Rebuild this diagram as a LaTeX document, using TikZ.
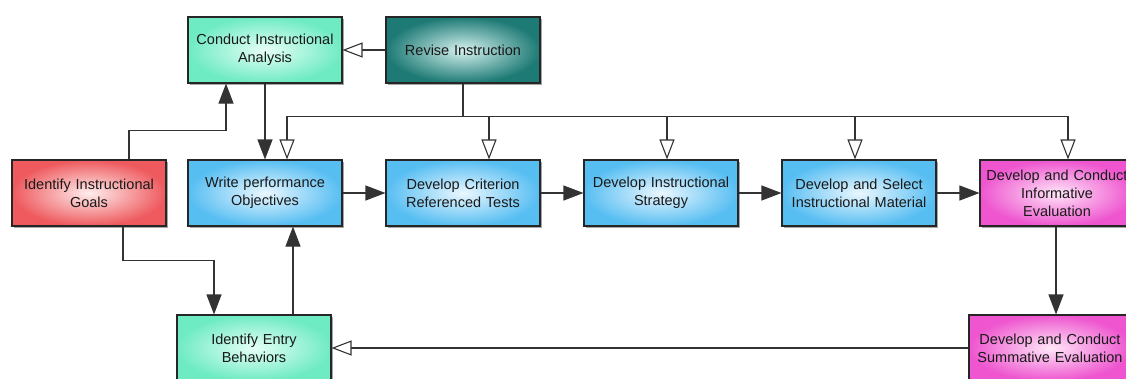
\documentclass[tikz,border=0pt]{standalone}
\usepackage{fontspec}
\setmainfont{Liberation Sans}
\usetikzlibrary{arrows.meta,shadows,calc}
\definecolor{linec}{HTML}{333333}
\definecolor{mintO}{HTML}{6FEBC3}
\definecolor{mintI}{HTML}{E6FFF7}
\definecolor{tealO}{HTML}{1E7A75}
\definecolor{tealI}{HTML}{D5F2EF}
\definecolor{redO}{HTML}{EE5A5E}
\definecolor{redI}{HTML}{FFEDED}
\definecolor{blueO}{HTML}{57BEF2}
\definecolor{blueI}{HTML}{EAF7FF}
\definecolor{pinkO}{HTML}{EE55CF}
\definecolor{pinkI}{HTML}{FFE6F8}
\tikzset{
  box/.style={draw=black!85, line width=1.1pt, minimum width=154pt, minimum height=66pt,
    inner sep=0pt, align=center, text width=150pt, text=black!90,
    font=\fontsize{14.5}{18}\selectfont, shading=radial,
    drop shadow={shadow xshift=2pt, shadow yshift=-2pt, opacity=0.35, fill=black}},
  mint/.style={box, inner color=mintI, outer color=mintO},
  teal/.style={box, inner color=tealI, outer color=tealO},
  redb/.style={box, inner color=redI, outer color=redO},
  blueb/.style={box, inner color=blueI, outer color=blueO},
  pinkb/.style={box, inner color=pinkI, outer color=pinkO},
  conn/.style={draw=linec, line width=1.1pt},
  farr/.style={conn, -{Triangle[length=20pt,width=15pt]}},
  oarr/.style={conn, -{Triangle[open,length=20pt,width=15pt,fill=white]}}
}
\begin{document}
\begin{tikzpicture}[x=1pt,y=-1pt]
\useasboundingbox (0,0) rectangle (1126,378);
\node[mint]  (conduct) at (265,50)  {Conduct Instructional\\Analysis};
\node[teal]  (revise)  at (463,50)  {Revise Instruction};
\node[redb]  (goals)   at (89,193)  {Identify Instructional\\Goals};
\node[blueb] (write)   at (265,193) {Write performance\\Objectives};
\node[blueb] (crit)    at (463,193) {Develop Criterion\\Referenced Tests};
\node[blueb] (strat)   at (661,193) {Develop Instructional\\Strategy};
\node[blueb] (select)  at (859,193) {Develop and Select\\Instructional Material};
\node[pinkb] (inform)  at (1057,193) {Develop and Conduct\\Informative\\Evaluation};
\node[mint]  (entry)   at (254,348) {Identify Entry\\Behaviors};
\node[pinkb, minimum width=162pt] (summ) at (1050,348) {Develop and Conduct\\Summative Evaluation};

% goals -> conduct
\draw[farr] ([xshift=40pt]goals.north) -- ++(0,-29) -| ([xshift=-39pt]conduct.south);
% revise -> conduct
\draw[oarr] (revise.west) -- (conduct.east);
% conduct -> write
\draw[farr] (conduct.south) -- (write.north);
% revise -> bus
\draw[conn] (revise.south) -- ++(0,33) coordinate (bus);
\draw[oarr] (bus) -| ([xshift=22pt]write.north);
\draw[oarr] (bus) -| ([xshift=26pt]crit.north);
\draw[oarr] (bus) -| ([xshift=6pt]strat.north);
\draw[oarr] (bus) -| ([xshift=-4pt]select.north);
\draw[oarr] (bus) -| ([xshift=11pt]inform.north);
% main chain
\draw[farr] (write.east) -- (crit.west);
\draw[farr] (crit.east) -- (strat.west);
\draw[farr] (strat.east) -- (select.west);
\draw[farr] (select.east) -- (inform.west);
% informative -> summative
\draw[farr] ([xshift=-1pt]inform.south) -- ([xshift=6pt]summ.north);
% summative -> entry
\draw[oarr] (summ.west) -- (entry.east);
% entry -> write
\draw[farr] ([xshift=39pt]entry.north) -- ([xshift=28pt]write.south);
% goals -> entry
\draw[farr] ([xshift=34pt]goals.south) -- ++(0,34) -| ([xshift=-40pt]entry.north);
\end{tikzpicture}
\end{document}
